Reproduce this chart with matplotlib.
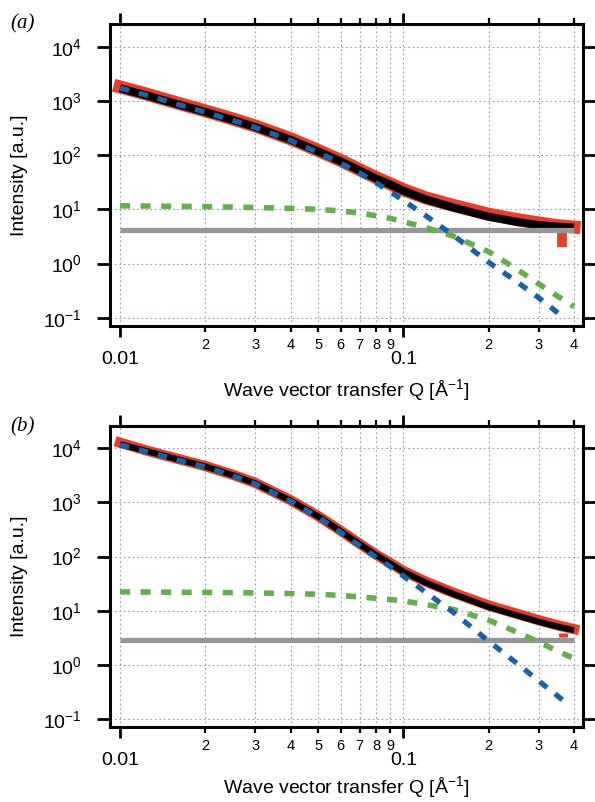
import matplotlib
matplotlib.use("Agg")
import matplotlib.pyplot as plt
from matplotlib.ticker import FixedLocator, FixedFormatter, NullLocator

plt.rcParams["font.family"] = ["Liberation Sans", "DejaVu Sans"]
plt.rcParams["mathtext.fontset"] = "custom"
plt.rcParams["mathtext.rm"] = "Liberation Sans"
plt.rcParams["mathtext.it"] = "Liberation Sans:italic"
plt.rcParams["mathtext.bf"] = "Liberation Sans:bold"

# ---- data ----
q_fit = [0.01, 0.0125, 0.015, 0.02, 0.025, 0.03, 0.04, 0.05, 0.06, 0.07,
         0.08, 0.09, 0.1, 0.12, 0.15, 0.2, 0.25, 0.3, 0.35, 0.4]

# panel (a)
data_a = [1810, 1320, 1000, 655, 465, 345, 200, 122, 80, 54,
          38.5, 29.5, 23, 16.2, 11.8, 8.1, 6.5, 5.6, 5.0, 4.7]
fit_a = [1710, 1250, 950, 625, 445, 330, 192, 117, 77, 52,
         37, 28.5, 22, 15.2, 10.8, 7.3, 5.9, 5.1, 4.8, 4.6]
q_blue_a = [0.01, 0.0125, 0.015, 0.02, 0.025, 0.03, 0.04, 0.05, 0.06, 0.07,
            0.08, 0.09, 0.1, 0.12, 0.15, 0.2, 0.25, 0.3, 0.36]
blue_a = [1738, 1259, 955, 617, 437, 324, 186, 112, 70.8, 46.8,
          30.9, 20.9, 14.5, 7.6, 3.3, 1.05, 0.47, 0.234, 0.11]
green_a = [11.6, 11.5, 11.4, 11.2, 11.0, 10.8, 10.4, 10.0, 9.3, 8.6,
           7.6, 6.8, 5.9, 4.6, 3.2, 1.65, 0.8, 0.42, 0.25, 0.16]
bkg_a = 4.15
err_q_a = [0.362]
err_lo_a = [2.04]
err_hi_a = [4.5]

# panel (b)
data_b = [12600, 8900, 6900, 4650, 3220, 2280, 1090, 560, 300, 173,
          109, 76, 54, 34.5, 21.5, 12.5, 8.9, 6.7, 5.4, 4.6]
fit_b = [11750, 8710, 6760, 4570, 3160, 2240, 1070, 550, 295, 170,
         107, 74, 52.5, 33, 20.4, 11.7, 8.3, 6.3, 5.1, 4.4]
q_blue_b = [0.01, 0.0125, 0.015, 0.02, 0.025, 0.03, 0.04, 0.05, 0.06, 0.07,
            0.08, 0.09, 0.1, 0.12, 0.15, 0.2, 0.25, 0.3, 0.35, 0.375]
blue_b = [11480, 8510, 6610, 4470, 3090, 2190, 1047, 537, 282, 158,
          97.7, 64.6, 43.7, 21.9, 9.33, 2.75, 1.10, 0.51, 0.27, 0.20]
green_b = [22.3, 22.2, 22.0, 21.8, 21.6, 21.4, 20.8, 20.2, 19.2, 18.0,
           17.0, 16.1, 15.2, 13.0, 10.6, 6.7, 4.1, 2.67, 1.8, 1.32]
bkg_b = 2.9
err_q_b = [0.366]
err_lo_b = [3.26]
err_hi_b = [3.9]

x_major = [0.01, 0.1]
x_major_labels = ["0.01", "0.1"]
x_minor = [0.02, 0.03, 0.04, 0.05, 0.06, 0.07, 0.08, 0.09, 0.2, 0.3, 0.4]
x_minor_labels = ["2", "3", "4", "5", "6", "7", "8", "9", "2", "3", "4"]
y_major = [1e-1, 1e0, 1e1, 1e2, 1e3, 1e4]
y_major_labels = ["$10^{-1}$", "$10^{0}$", "$10^{1}$", "$10^{2}$", "$10^{3}$", "$10^{4}$"]

RED = "#ee3b24"
BLUE = "#1463ae"
GREEN = "#62b147"
GRAY = "#95979a"
GRID = "#8d99cc"


def draw_panel(ax, data, fit, q_blue, blue, green, bkg, err_q, err_lo, err_hi,
               ylim, lw_data, lw_fit, lw_err):
    ax.plot(q_fit, data, color=RED, lw=lw_data, solid_capstyle="projecting", zorder=2)
    ax.vlines(err_q, err_lo, err_hi, color=RED, lw=lw_err, zorder=2)
    ax.plot(q_fit, fit, color="black", lw=lw_fit, solid_capstyle="butt", zorder=3)
    ax.plot([q_fit[0], q_fit[-1]], [bkg, bkg], color=GRAY, lw=3.8,
            solid_capstyle="butt", zorder=4)
    ax.plot(q_fit, green, color=GREEN, lw=4.0, ls=(0, (1.8, 1.9)), zorder=5)
    ax.plot(q_blue, blue, color=BLUE, lw=3.8, ls=(0, (1.8, 1.9)), zorder=6)

    ax.set_xscale("log")
    ax.set_yscale("log")
    ax.set_xlim(0.00922, 0.4302)
    ax.set_ylim(*ylim)

    ax.xaxis.set_major_locator(FixedLocator(x_major))
    ax.xaxis.set_major_formatter(FixedFormatter(x_major_labels))
    ax.xaxis.set_minor_locator(FixedLocator(x_minor))
    ax.xaxis.set_minor_formatter(FixedFormatter(x_minor_labels))
    ax.yaxis.set_major_locator(FixedLocator(y_major))
    ax.yaxis.set_major_formatter(FixedFormatter(y_major_labels))
    ax.yaxis.set_minor_locator(NullLocator())

    for s in ax.spines.values():
        s.set_linewidth(2.2)
    ax.tick_params(which="both", direction="out", top=True, right=True,
                   labeltop=False, labelright=False, color="black")
    ax.tick_params(axis="x", which="major", length=8, width=2.0, pad=10, labelsize=14)
    ax.tick_params(axis="x", which="minor", length=4.3, width=1.6, pad=4, labelsize=10.5)
    ax.tick_params(axis="y", which="major", length=9.4, width=2.0, pad=11, labelsize=14)

    ax.grid(True, which="major", color=GRID, lw=0.8, ls=(0, (1.5, 2.5)), zorder=0)
    ax.grid(True, which="minor", axis="x", color=GRID, lw=0.8, ls=(0, (1.5, 2.5)), zorder=0)
    ax.set_axisbelow(True)

    ax.set_xlabel("Wave vector transfer Q [Å$^{-1}$]", fontsize=14)
    ax.set_ylabel("Intensity [a.u.]", fontsize=14)
    ax.yaxis.set_label_coords(-0.173, 0.5)


fig = plt.figure(figsize=(5.95, 8.02), dpi=100)
ax_a = fig.add_axes([0.1849, 0.5935, 0.7950, 0.3766])
ax_b = fig.add_axes([0.1849, 0.0935, 0.7950, 0.3753])

draw_panel(ax_a, data_a, fit_a, q_blue_a, blue_a, green_a, bkg_a,
           err_q_a, err_lo_a, err_hi_a, (0.0703, 26240), 9.4, 5.8, 7.0)
draw_panel(ax_b, data_b, fit_b, q_blue_b, blue_b, green_b, bkg_b,
           err_q_b, err_lo_b, err_hi_b, (0.0721, 25470), 7.4, 4.4, 6.5)
ax_a.xaxis.set_label_coords(0.5, -0.168)
ax_b.xaxis.set_label_coords(0.5, -0.158)

fig.text(10 / 595, 1 - 24 / 802, "(a)", family="Liberation Serif", style="italic",
         fontsize=15, va="center", ha="left")
fig.text(10 / 595, 1 - 427 / 802, "(b)", family="Liberation Serif", style="italic",
         fontsize=15, va="center", ha="left")

fig.savefig("out.png", dpi=100)
